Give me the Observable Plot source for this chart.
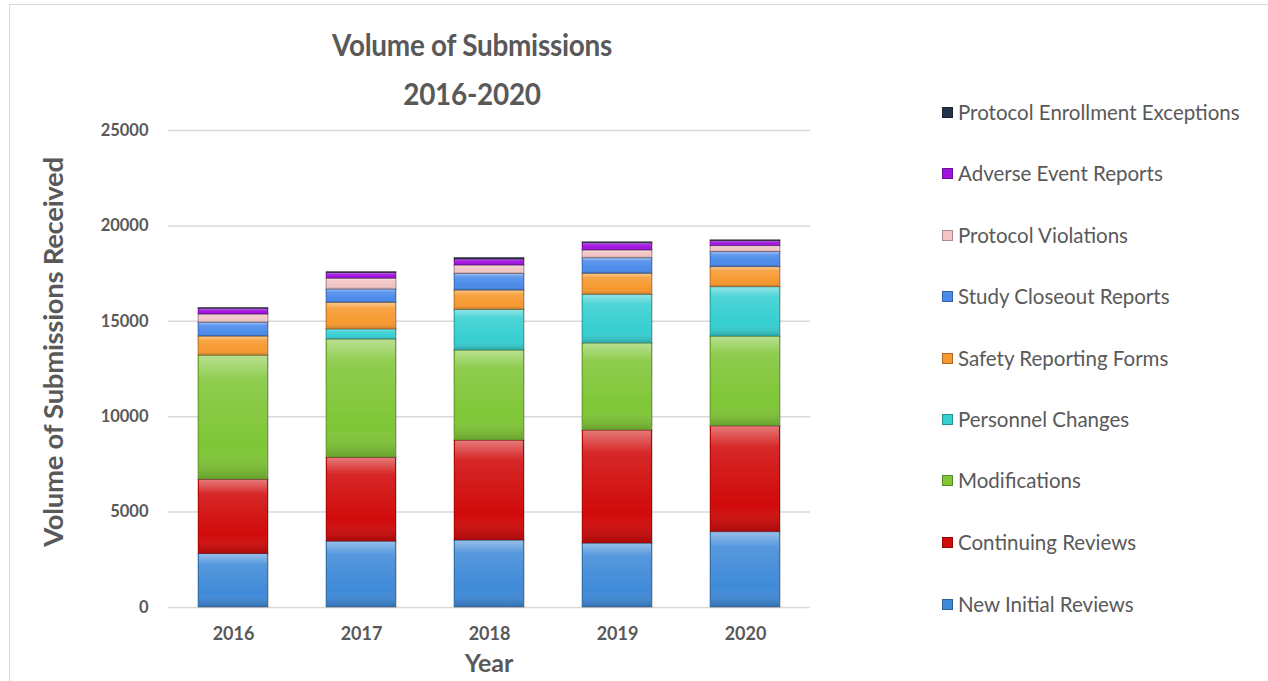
<!DOCTYPE html>
<html>
<head>
<meta charset="utf-8">
<script src="https://cdn.jsdelivr.net/npm/d3@7"></script>
<script src="https://cdn.jsdelivr.net/npm/@observablehq/plot@0.6"></script>
<style>
  html, body { margin: 0; padding: 0; background: #fff; }
  body { width: 1268px; height: 681px; position: relative; overflow: hidden; font-family: Lato, "Open Sans", sans-serif; color: #595959; }
  #frame { position: absolute; left: 9px; top: 4px; width: 1270px; height: 700px; border: 1px solid #d9d9d9; box-sizing: border-box; }
  #chart { position: absolute; left: 0; top: 0; }
  .title { position: absolute; left: 472px; transform: translateX(-50%) scaleX(0.9); font-weight: 700; font-size: 31px; letter-spacing: -0.3px; white-space: nowrap; color: #595959; }
  #ylabel { position: absolute; left: 52px; top: 352px; transform: translate(-50%, -50%) rotate(-90deg); font-weight: 700; font-size: 27.5px; letter-spacing: -0.3px; white-space: nowrap; }
  #xlabel { position: absolute; left: 489px; top: 662px; transform: translate(-50%, -50%); font-weight: 700; font-size: 25px; }
  .leg { position: absolute; left: 942px; font-size: 20.5px; white-space: nowrap; transform: translateY(-50%); display: flex; align-items: center; color: #595959; }
  .leg span.sw { display: inline-block; width: 11px; height: 11px; margin-right: 5px; border: 1px solid rgba(0,0,0,0.3); box-sizing: border-box; }
</style>
</head>
<body>
<div id="frame"></div>
<div id="chart"></div>
<div class="title" style="top:25px">Volume of Submissions</div>
<div class="title" style="top:74px">2016-2020</div>
<div id="ylabel">Volume of Submissions Received</div>
<div id="xlabel">Year</div>
<div id="legend"></div>
<script>
// ---- data ----
const years = ["2016", "2017", "2018", "2019", "2020"];
const seriesNames = [
  "New Initial Reviews",
  "Continuing Reviews",
  "Modifications",
  "Personnel Changes",
  "Safety Reporting Forms",
  "Study Closeout Reports",
  "Protocol Violations",
  "Adverse Event Reports",
  "Protocol Enrollment Exceptions"
];
const newInitialReviews      = [2800, 3450, 3510, 3350, 3950];
const continuingReviews      = [3900, 4400, 5240, 5930, 5550];
const modifications          = [6500, 6200, 4720, 4560, 4700];
const personnelChanges       = [0,    520,  2130, 2550, 2590];
const safetyReportingForms   = [1000, 1400, 1010, 1100, 1050];
const studyCloseoutReports   = [730,  700,  875,  820,  790];
const protocolViolations     = [420,  560,  435,  400,  310];
const adverseEventReports    = [300,  300,  320,  380,  260];
const enrollmentExceptions   = [50,   50,   80,   55,   50];
const seriesColors = ["#3f8ad8", "#d10a0a", "#7fc636", "#36cfd1", "#f7992f", "#4b8beb", "#f2c4c4", "#a012df", "#26344a"];
const yTicks = [0, 5000, 10000, 15000, 20000, 25000];

const seriesValues = [newInitialReviews, continuingReviews, modifications, personnelChanges,
  safetyReportingForms, studyCloseoutReports, protocolViolations, adverseEventReports, enrollmentExceptions];

const rows = [];
seriesNames.forEach((s, i) => {
  years.forEach((y, j) => rows.push({year: y, series: s, value: seriesValues[i][j]}));
});

const chart = Plot.plot({
  width: 860,
  height: 681,
  marginLeft: 168,
  marginRight: 50,
  marginTop: 130,
  marginBottom: 74,
  style: {fontFamily: "Lato, 'Open Sans', sans-serif", fontSize: "16.5px", color: "#595959", background: "transparent", overflow: "visible"},
  x: {domain: years, paddingInner: 0.455, paddingOuter: 0.2275, label: null, tickSize: 0, tickPadding: 20},
  y: {domain: [0, 25000], ticks: yTicks, tickFormat: d3.format("d"), label: null, tickSize: 0, tickPadding: 20},
  color: {domain: seriesNames, range: seriesColors},
  marks: [
    Plot.ruleY(yTicks, {stroke: "#d9d9d9", strokeWidth: 1.5}),
    Plot.barY(rows, {x: "year", y: "value", fill: "series", stroke: "#000", strokeOpacity: 0.35, strokeWidth: 1}),
    Plot.barY(rows, {x: "year", y: "value", fill: "url(#shine)", insetLeft: 1, insetRight: 1, insetTop: 0.5, insetBottom: 0.5})
  ]
});

// glossy overlay gradient
const ns = "http://www.w3.org/2000/svg";
const defs = document.createElementNS(ns, "defs");
defs.innerHTML = `
  <linearGradient id="shine" x1="0" y1="0" x2="0" y2="1">
    <stop offset="0" stop-color="#fff" stop-opacity="0.45"/>
    <stop offset="0.2" stop-color="#fff" stop-opacity="0.12"/>
    <stop offset="0.75" stop-color="#fff" stop-opacity="0"/>
    <stop offset="1" stop-color="#000" stop-opacity="0.18"/>
  </linearGradient>`;
chart.insertBefore(defs, chart.firstChild);
chart.querySelectorAll("g[aria-label='x-axis tick label'], g[aria-label='y-axis tick label']").forEach(g => g.setAttribute("font-weight", "700"));
chart.querySelectorAll("g[aria-label='x-axis tick label']").forEach(g => g.setAttribute("font-size", "18"));
document.getElementById("chart").appendChild(chart);

// legend (top to bottom: reverse stacking order)
const legendY = [112, 173, 235, 296, 358, 419, 480, 542, 604];
const legend = document.getElementById("legend");
seriesNames.slice().reverse().forEach((s, k) => {
  const i = seriesNames.length - 1 - k;
  const d = document.createElement("div");
  d.className = "leg";
  d.style.top = legendY[k] + "px";
  d.innerHTML = `<span class="sw" style="background:${seriesColors[i]}"></span>${s}`;
  legend.appendChild(d);
});
</script>
</body>
</html>
